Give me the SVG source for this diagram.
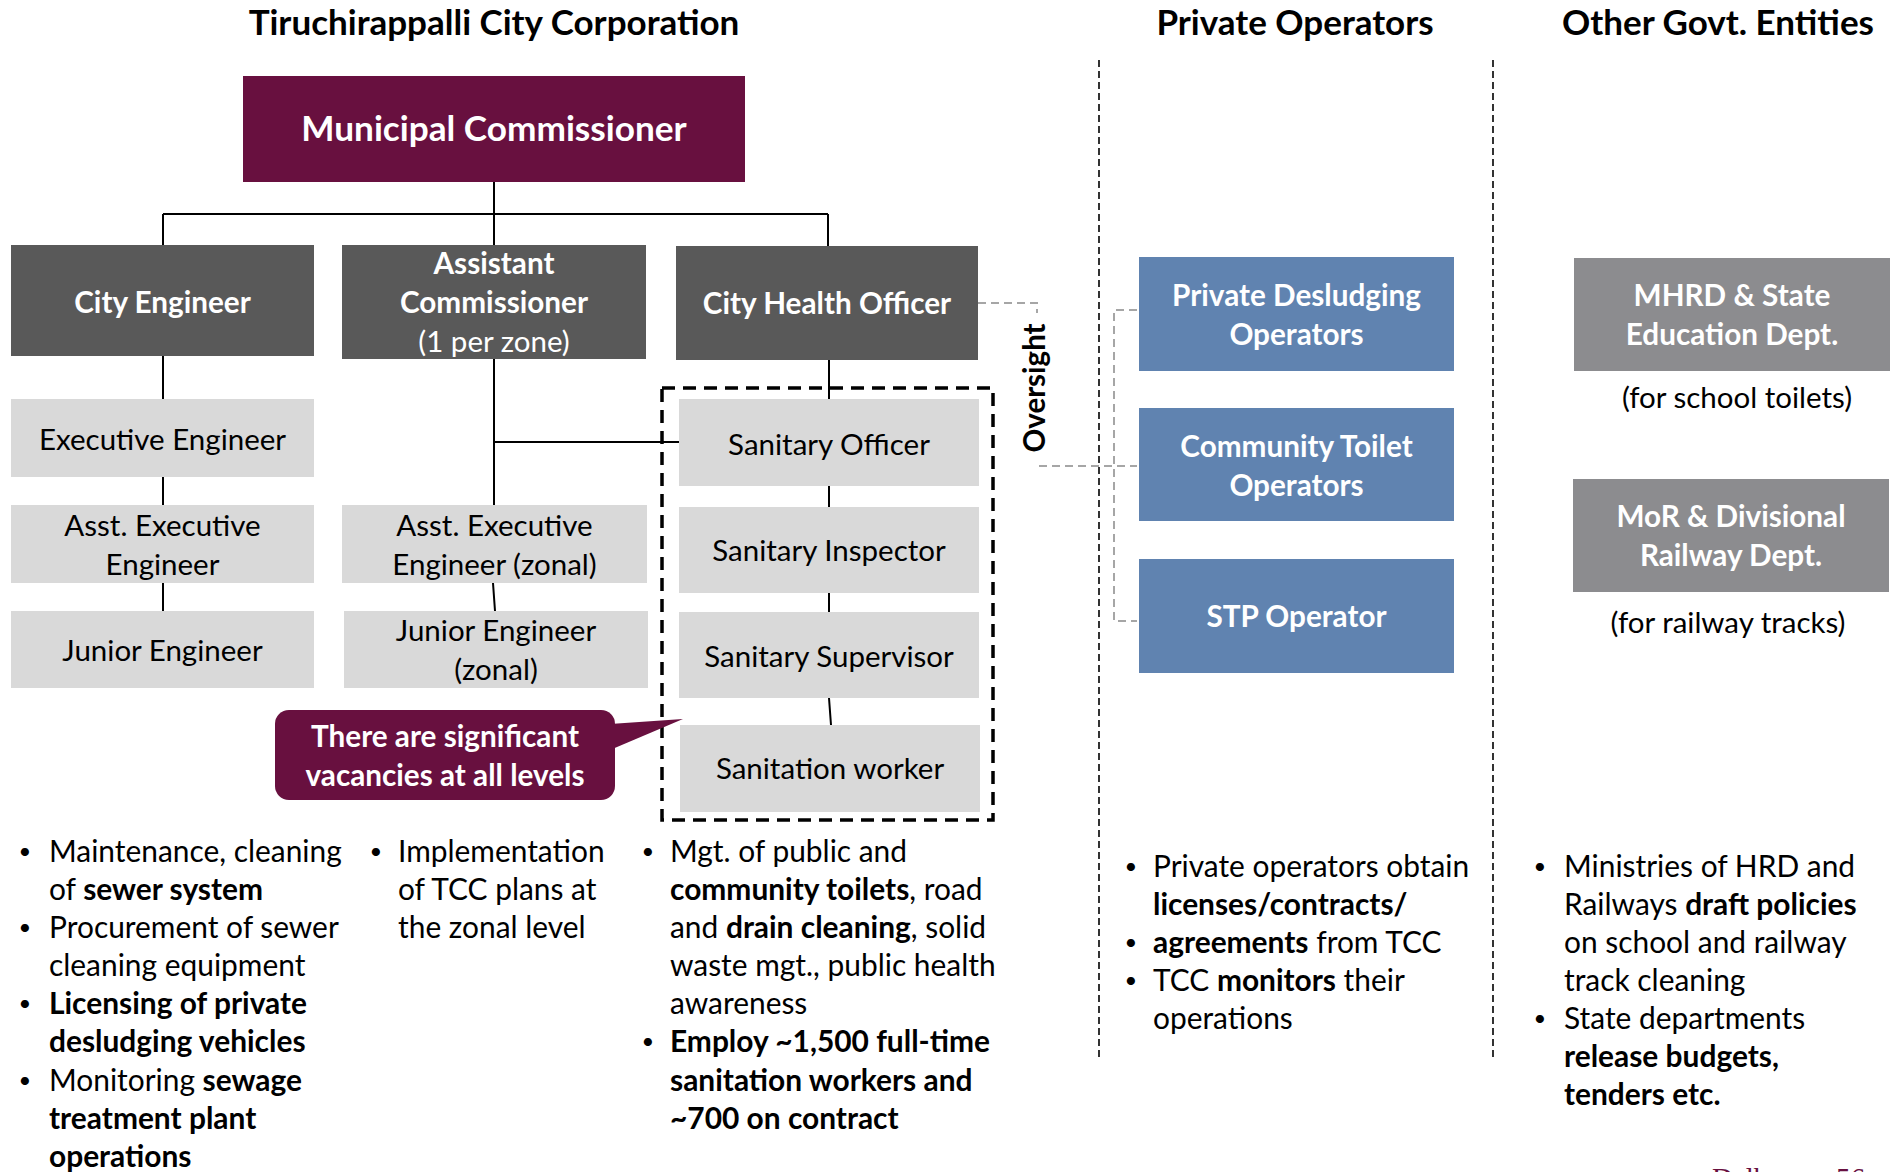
<svg xmlns="http://www.w3.org/2000/svg" width="1893" height="1172" viewBox="0 0 1893 1172">
<style>
text{font-family:Lato,"Liberation Sans",sans-serif;}
.hd{font-size:35px;font-weight:bold;fill:#000;text-anchor:middle}
.mc{font-size:35.2px;font-weight:bold;fill:#fff;text-anchor:middle}
.wb{font-size:29.7px;font-weight:bold;fill:#fff;text-anchor:middle}
.wr{font-size:29.5px;fill:#fff;text-anchor:middle}
.bk{font-size:29.5px;fill:#000;text-anchor:middle}
.bt{font-size:29.9px;fill:#000}
.bu{font-size:22px;fill:#000;text-anchor:middle}
.b{font-weight:bold}
.dark{fill:#595959}
.light{fill:#D9D9D9}
.blue{fill:#6083B0}
.gray{fill:#8C8C8F}
.maroon{fill:#68103F}
.conn{stroke:#000;stroke-width:2;fill:none}
.over{stroke:#A6A6A6;stroke-width:2;fill:none;stroke-dasharray:8 5}
.div{stroke:#000;stroke-width:1.6;fill:none;stroke-dasharray:7 4}
</style>

<!-- headers -->
<text class="hd" x="494" y="35">Tiruchirappalli City Corporation</text>
<text class="hd" x="1295" y="35">Private Operators</text>
<text class="hd" x="1718" y="35">Other Govt. Entities</text>

<!-- connectors -->
<g id="connectors">
  <path class="conn" d="M494,182 V214 M163,214 H828 M163,214 V245 M494,214 V245 M828,214 V246"/>
  <path class="conn" d="M163,356 V399 M163,477 V505 M163,583 V611"/>
  <path class="conn" d="M494,359 V505 M494,442 H679 M493,583 L495,611"/>
  <path class="conn" d="M829,360 V399 M829,486 V507 M829,593 V612 M829,698 L831,725"/>
  <path class="over" d="M978,303 H1037 V313 M1039,466 H1137 M1137,310 H1114 V621 H1137"/>
  <path class="div" d="M1099,60 V1058 M1493,60 V1058"/>
  <rect x="662" y="388" width="331" height="432" fill="none" stroke="#000" stroke-width="3.5" stroke-dasharray="13 8"/>
</g>

<!-- Oversight label -->
<text class="b" transform="translate(1045,388) rotate(-90)" text-anchor="middle" font-size="29.5" fill="#000">Oversight</text>

<g id="municipal-commissioner">
  <rect class="maroon" x="243" y="76" width="502" height="106"/>
  <text class="mc" x="494" y="141">Municipal Commissioner</text>
</g>

<g id="city-engineer">
  <rect class="dark" x="11" y="245" width="303" height="111"/>
  <text class="wb" x="162.5" y="313">City Engineer</text>
</g>
<g id="assistant-commissioner">
  <rect class="dark" x="342" y="245" width="304" height="114"/>
  <text class="wb" x="494" y="274">Assistant</text>
  <text class="wb" x="494" y="313">Commissioner</text>
  <text class="wr" x="494" y="352">(1 per zone)</text>
</g>
<g id="city-health-officer">
  <rect class="dark" x="676" y="246" width="302" height="114"/>
  <text class="wb" x="827" y="314">City Health Officer</text>
</g>

<g id="executive-engineer">
  <rect class="light" x="11" y="399" width="303" height="78"/>
  <text class="bk" x="162.5" y="450">Executive Engineer</text>
</g>
<g id="asst-executive-engineer">
  <rect class="light" x="11" y="505" width="303" height="78"/>
  <text class="bk" x="162.5" y="536">Asst. Executive</text>
  <text class="bk" x="162.5" y="575">Engineer</text>
</g>
<g id="junior-engineer">
  <rect class="light" x="11" y="611" width="303" height="77"/>
  <text class="bk" x="162.5" y="661">Junior Engineer</text>
</g>

<g id="asst-executive-engineer-zonal">
  <rect class="light" x="342" y="505" width="305" height="78"/>
  <text class="bk" x="494.5" y="536">Asst. Executive</text>
  <text class="bk" x="494.5" y="575">Engineer (zonal)</text>
</g>
<g id="junior-engineer-zonal">
  <rect class="light" x="344" y="611" width="304" height="77"/>
  <text class="bk" x="496" y="641">Junior Engineer</text>
  <text class="bk" x="496" y="680">(zonal)</text>
</g>

<g id="sanitary-officer">
  <rect class="light" x="679" y="399" width="300" height="87"/>
  <text class="bk" x="829" y="455">Sanitary Officer</text>
</g>
<g id="sanitary-inspector">
  <rect class="light" x="679" y="507" width="300" height="86"/>
  <text class="bk" x="829" y="561">Sanitary Inspector</text>
</g>
<g id="sanitary-supervisor">
  <rect class="light" x="679" y="612" width="300" height="86"/>
  <text class="bk" x="829" y="667">Sanitary Supervisor</text>
</g>
<g id="sanitation-worker">
  <rect class="light" x="680" y="725" width="300" height="87"/>
  <text class="bk" x="830" y="779">Sanitation worker</text>
</g>

<g id="vacancies-callout">
  <rect class="maroon" x="275" y="710" width="340" height="90" rx="14"/>
  <polygon class="maroon" points="610,724 683,719 610,750"/>
  <text class="wb" x="445" y="747">There are significant</text>
  <text class="wb" x="445" y="786">vacancies at all levels</text>
</g>

<g id="private-desludging-operators">
  <rect class="blue" x="1139" y="257" width="315" height="114"/>
  <text class="wb" x="1296.5" y="306">Private Desludging</text>
  <text class="wb" x="1296.5" y="345">Operators</text>
</g>
<g id="community-toilet-operators">
  <rect class="blue" x="1139" y="408" width="315" height="113"/>
  <text class="wb" x="1296.5" y="457">Community Toilet</text>
  <text class="wb" x="1296.5" y="496">Operators</text>
</g>
<g id="stp-operator">
  <rect class="blue" x="1139" y="559" width="315" height="114"/>
  <text class="wb" x="1296.5" y="627">STP Operator</text>
</g>

<g id="mhrd">
  <rect class="gray" x="1574" y="258" width="316" height="113"/>
  <text class="wb" x="1732" y="306">MHRD &amp; State</text>
  <text class="wb" x="1732" y="345">Education Dept.</text>
  <text class="bk" x="1737" y="408">(for school toilets)</text>
</g>
<g id="mor">
  <rect class="gray" x="1573" y="479" width="316" height="113"/>
  <text class="wb" x="1731" y="527">MoR &amp; Divisional</text>
  <text class="wb" x="1731" y="566">Railway Dept.</text>
  <text class="bk" x="1728" y="633">(for railway tracks)</text>
</g>

<!-- bullet column 1 -->
<g id="notes-city-engineer">
  <text class="bu" x="25" y="859">•</text>
  <text class="bt" x="49" y="862">Maintenance, cleaning</text>
  <text class="bt" x="49" y="900">of <tspan class="b">sewer system</tspan></text>
  <text class="bu" x="25" y="935">•</text>
  <text class="bt" x="49" y="938">Procurement of sewer</text>
  <text class="bt" x="49" y="976">cleaning equipment</text>
  <text class="bu" x="25" y="1011">•</text>
  <text class="bt b" x="49" y="1014">Licensing of private</text>
  <text class="bt b" x="49" y="1052">desludging vehicles</text>
  <text class="bu" x="25" y="1088">•</text>
  <text class="bt" x="49" y="1091">Monitoring <tspan class="b">sewage</tspan></text>
  <text class="bt b" x="49" y="1129">treatment plant</text>
  <text class="bt b" x="49" y="1167">operations</text>
</g>
<g id="notes-assistant-commissioner">
  <text class="bu" x="376" y="859">•</text>
  <text class="bt" x="398" y="862">Implementation</text>
  <text class="bt" x="398" y="900">of TCC plans at</text>
  <text class="bt" x="398" y="938">the zonal level</text>
</g>
<g id="notes-city-health-officer">
  <text class="bu" x="648" y="859">•</text>
  <text class="bt" x="670" y="862">Mgt. of public and</text>
  <text class="bt" x="670" y="900"><tspan class="b">community toilets</tspan>, road</text>
  <text class="bt" x="670" y="938">and <tspan class="b">drain cleaning</tspan>, solid</text>
  <text class="bt" x="670" y="976">waste mgt., public health</text>
  <text class="bt" x="670" y="1014">awareness</text>
  <text class="bu" x="648" y="1049">•</text>
  <text class="bt b" x="670" y="1052">Employ ~1,500 full-time</text>
  <text class="bt b" x="670" y="1091">sanitation workers and</text>
  <text class="bt b" x="670" y="1129">~700 on contract</text>
</g>
<g id="notes-private">
  <text class="bu" x="1131" y="874">•</text>
  <text class="bt" x="1153" y="877">Private operators obtain</text>
  <text class="bt b" x="1153" y="915">licenses/contracts/</text>
  <text class="bu" x="1131" y="950">•</text>
  <text class="bt" x="1153" y="953"><tspan class="b">agreements</tspan> from TCC</text>
  <text class="bu" x="1131" y="988">•</text>
  <text class="bt" x="1153" y="991">TCC <tspan class="b">monitors</tspan> their</text>
  <text class="bt" x="1153" y="1029">operations</text>
</g>
<g id="notes-other-govt">
  <text class="bu" x="1540" y="874">•</text>
  <text class="bt" x="1564" y="877">Ministries of HRD and</text>
  <text class="bt" x="1564" y="915">Railways <tspan class="b">draft policies</tspan></text>
  <text class="bt" x="1564" y="953">on school and railway</text>
  <text class="bt" x="1564" y="991">track cleaning</text>
  <text class="bu" x="1540" y="1026">•</text>
  <text class="bt" x="1564" y="1029">State departments</text>
  <text class="bt b" x="1564" y="1067">release budgets,</text>
  <text class="bt b" x="1564" y="1105">tenders etc.</text>
</g>

<!-- footer (cut off, as in the reference) -->
<text x="1712" y="1188" font-size="29" fill="#68103F" style="font-family:'Liberation Serif',serif">Dalberg</text>
<text x="1836" y="1188" font-size="29" fill="#68103F" style="font-family:'Liberation Serif',serif">56</text>
</svg>
